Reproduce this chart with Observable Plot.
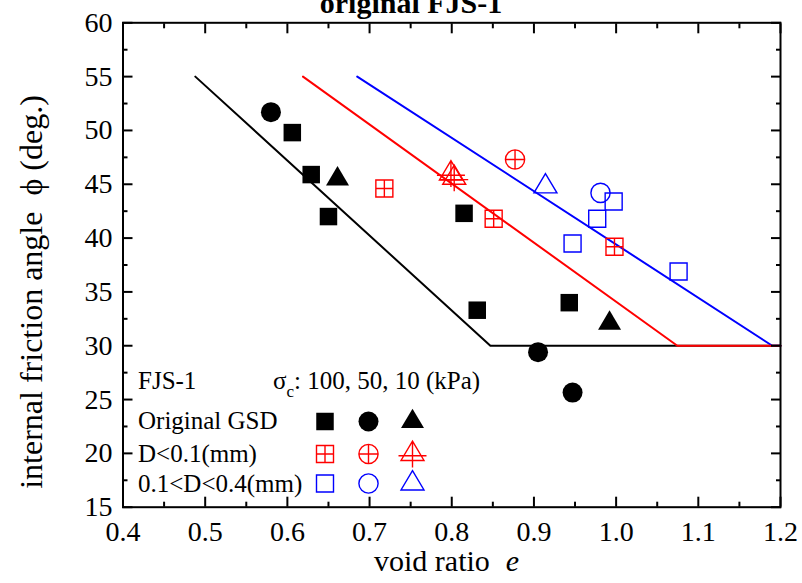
<!DOCTYPE html>
<html><head><meta charset="utf-8">
<script src="https://cdn.jsdelivr.net/npm/d3@7"></script>
<script src="https://cdn.jsdelivr.net/npm/@observablehq/plot@0.6"></script>
<style>
body{margin:0;background:#fff;}
#chart{position:relative;width:802px;height:583px;overflow:hidden;background:#fff;}
</style>
</head><body><div id="chart"></div>
<script>
// ---- tick values ----
const xMajor = [0.4,0.5,0.6,0.7,0.8,0.9,1.0,1.1,1.2];
const xMinor = [0.45,0.55,0.65,0.75,0.85,0.95,1.05,1.15];
const yMajor = [15,20,25,30,35,40,45,50,55,60];
const yMinor = [17.5,22.5,27.5,32.5,37.5,42.5,47.5,52.5,57.5];

// ---- Original GSD (σc = 100, 50, 10 kPa) ----
const orig100E   = [0.606,0.629,0.650,0.815,0.831,0.943];
const orig100Phi = [49.8,45.9,42.0,42.3,33.3,34.0];
const orig50E    = [0.580,0.905,0.947];
const orig50Phi  = [51.7,29.4,25.65];
const orig10E    = [0.661,0.992];
const orig10Phi  = [45.5,32.1];
// ---- D<0.1 mm ----
const fine100E   = [0.718,0.851,0.998];
const fine100Phi = [44.6,41.8,39.2];
const fine50E    = [0.877];
const fine50Phi  = [47.3];
const fine10E    = [0.799,0.803];
const fine10Phi  = [46.0,45.6];
// ---- 0.1<D<0.4 mm ----
const mid100E    = [0.997,0.977,0.947,1.076];
const mid100Phi  = [43.4,41.8,39.5,36.9];
const mid50E     = [0.981];
const mid50Phi   = [44.2];
const mid10E     = [0.914];
const mid10Phi   = [44.8];

// ---- trend lines ----
const blackLineE = [0.488,0.847,1.2];
const blackLinePhi = [55,30,30];
const blueLineE = [0.685,1.19,1.2];
const blueLinePhi = [55,30,30];
const redLineE = [0.619,1.0745,1.2];
const redLinePhi = [55,30,30];

const rows = (es, ps) => es.map((e,i) => ({e, phi: ps[i]}));

// ---- custom symbols ----
function sq(c,h){c.moveTo(-h,-h);c.lineTo(h,-h);c.lineTo(h,h);c.lineTo(-h,h);c.closePath();}
function ci(c,r){c.moveTo(r,0);c.arc(0,0,r,0,2*Math.PI);c.closePath();}
function tri(c){c.moveTo(0,-12.8);c.lineTo(11.5,6.5);c.lineTo(-11.5,6.5);c.closePath();}
const S = {
  square:{draw(c){sq(c,8.75);}},
  circle:{draw(c){ci(c,10);}},
  triangle:{draw(c){tri(c);}},
  gridSquare:{draw(c){sq(c,8.5);c.moveTo(0,-8.5);c.lineTo(0,8.5);c.moveTo(-8.5,0);c.lineTo(8.5,0);}},
  crossCircle:{draw(c){ci(c,9.6);c.moveTo(0,-9.6);c.lineTo(0,9.6);c.moveTo(-9.6,0);c.lineTo(9.6,0);}},
  crossTriangle:{draw(c){tri(c);c.moveTo(0,-12.8);c.lineTo(0,13.5);c.moveTo(-14,1.8);c.lineTo(14,1.8);}},
  openSquare:{draw(c){sq(c,8.5);}},
  openCircle:{draw(c){ci(c,9.6);}},
  openTriangle:{draw(c){tri(c);}}
};

const RED = "#ff0000", BLUE = "#0000ff";
const filled = (d, sym) => Plot.dot(d, {x:"e", y:"phi", r:10, symbol:sym, fill:"#000", stroke:"none"});
const open = (d, sym, col) => Plot.dot(d, {x:"e", y:"phi", r:10, symbol:sym, fill:"none", stroke:col, strokeWidth:1.4});

const axisStyle = {stroke:"#000", strokeWidth:2, tickFormat:()=>"", label:null};

const chart = Plot.plot({
  width: 802, height: 583,
  marginLeft: 122.5, marginRight: 22, marginTop: 22.3, marginBottom: 76.3,
  x: {domain:[0.4,1.2], label:null},
  y: {domain:[15,60], label:null},
  style: {fontFamily:"'Liberation Serif','Times New Roman',serif", fontSize:"28px", color:"#000", background:"#fff", overflow:"visible"},
  marks: [
    Plot.line(rows(blackLineE, blackLinePhi), {x:"e", y:"phi", stroke:"#000", strokeWidth:2}),
    Plot.line(rows(blueLineE, blueLinePhi), {x:"e", y:"phi", stroke:BLUE, strokeWidth:2}),
    Plot.line(rows(redLineE, redLinePhi), {x:"e", y:"phi", stroke:RED, strokeWidth:2}),

    filled(rows(orig100E, orig100Phi), S.square),
    filled(rows(orig50E, orig50Phi), S.circle),
    filled(rows(orig10E, orig10Phi), S.triangle),
    open(rows(fine100E, fine100Phi), S.gridSquare, RED),
    open(rows(fine50E, fine50Phi), S.crossCircle, RED),
    open(rows(fine10E, fine10Phi), S.crossTriangle, RED),
    open(rows(mid100E, mid100Phi), S.openSquare, BLUE),
    open(rows(mid50E, mid50Phi), S.openCircle, BLUE),
    open(rows(mid10E, mid10Phi), S.openTriangle, BLUE),

    // inward ticks on all four sides
    Plot.axisX(xMajor, {anchor:"bottom", tickSize:-10, ...axisStyle}),
    Plot.axisX(xMinor, {anchor:"bottom", tickSize:-5, ...axisStyle}),
    Plot.axisX(xMajor, {anchor:"top", tickSize:-10, ...axisStyle}),
    Plot.axisX(xMinor, {anchor:"top", tickSize:-5, ...axisStyle}),
    Plot.axisY(yMajor, {anchor:"left", tickSize:-10, ...axisStyle}),
    Plot.axisY(yMinor, {anchor:"left", tickSize:-5, ...axisStyle}),
    Plot.axisY(yMajor, {anchor:"right", tickSize:-10, ...axisStyle}),
    Plot.axisY(yMinor, {anchor:"right", tickSize:-5, ...axisStyle}),
    // tick labels
    Plot.axisX(xMajor, {anchor:"bottom", tickSize:0, tickPadding:13.5, tickFormat:d=>d.toFixed(1), fontSize:28, label:null}),
    Plot.axisY(yMajor, {anchor:"left", tickSize:0, tickPadding:10.5, tickFormat:d=>String(d), fontSize:28, label:null}),
    Plot.frame({stroke:"#000", strokeWidth:2})
  ]
});
document.getElementById("chart").appendChild(chart);

// ---- titles and legend (text) ----
const svg = d3.select(chart);
const g = svg.append("g").attr("font-family","'Liberation Serif','Times New Roman',serif")
  .attr("fill","#000").attr("text-anchor","start").style("white-space","pre");

g.append("text").attr("x",411).attr("y",13).attr("text-anchor","middle")
  .attr("font-size",30).attr("font-weight","bold").text("original FJS-1");

g.append("text").attr("transform","translate(42,292) rotate(-90)").attr("text-anchor","middle")
  .attr("font-size",32).text("internal friction angle  \u03D5 (deg.)");

const xl = g.append("text").attr("x",374).attr("y",571).attr("font-size",30);
xl.append("tspan").text("void ratio");
xl.append("tspan").attr("dx",16).attr("font-style","italic").text("e");

// legend
const legendRows = ["Original GSD","D<0.1(mm)","0.1<D<0.4(mm)"];
const legendBase = [429,461.5,491.5];
const legendSymY = [421.5,454,483.5];
const legendSymX = [325,368.5,412.5];
const legendSyms = [
  [S.square,S.circle,S.triangle],
  [S.gridSquare,S.crossCircle,S.crossTriangle],
  [S.openSquare,S.openCircle,S.openTriangle]
];
const legendColors = ["#000",RED,BLUE];

g.append("text").attr("x",138).attr("y",389).attr("font-size",25).text("FJS-1");
const sig = g.append("text").attr("x",273).attr("y",389).attr("font-size",25);
sig.append("tspan").text("\u03C3");
sig.append("tspan").attr("font-size",17).attr("dy",8).text("c");
sig.append("tspan").attr("dy",-8).text(": 100, 50, 10 (kPa)");

legendRows.forEach((t,i)=>{
  g.append("text").attr("x",138).attr("y",legendBase[i]).attr("font-size",25).text(t);
  legendSyms[i].forEach((s,j)=>{
    const p = d3.path(); s.draw(p);
    const el = g.append("path").attr("d",p.toString())
      .attr("transform",`translate(${legendSymX[j]},${legendSymY[i]})`);
    if(i===0) el.attr("fill","#000");
    else el.attr("fill","none").attr("stroke",legendColors[i]).attr("stroke-width",1.4);
  });
});
</script>
</body></html>
